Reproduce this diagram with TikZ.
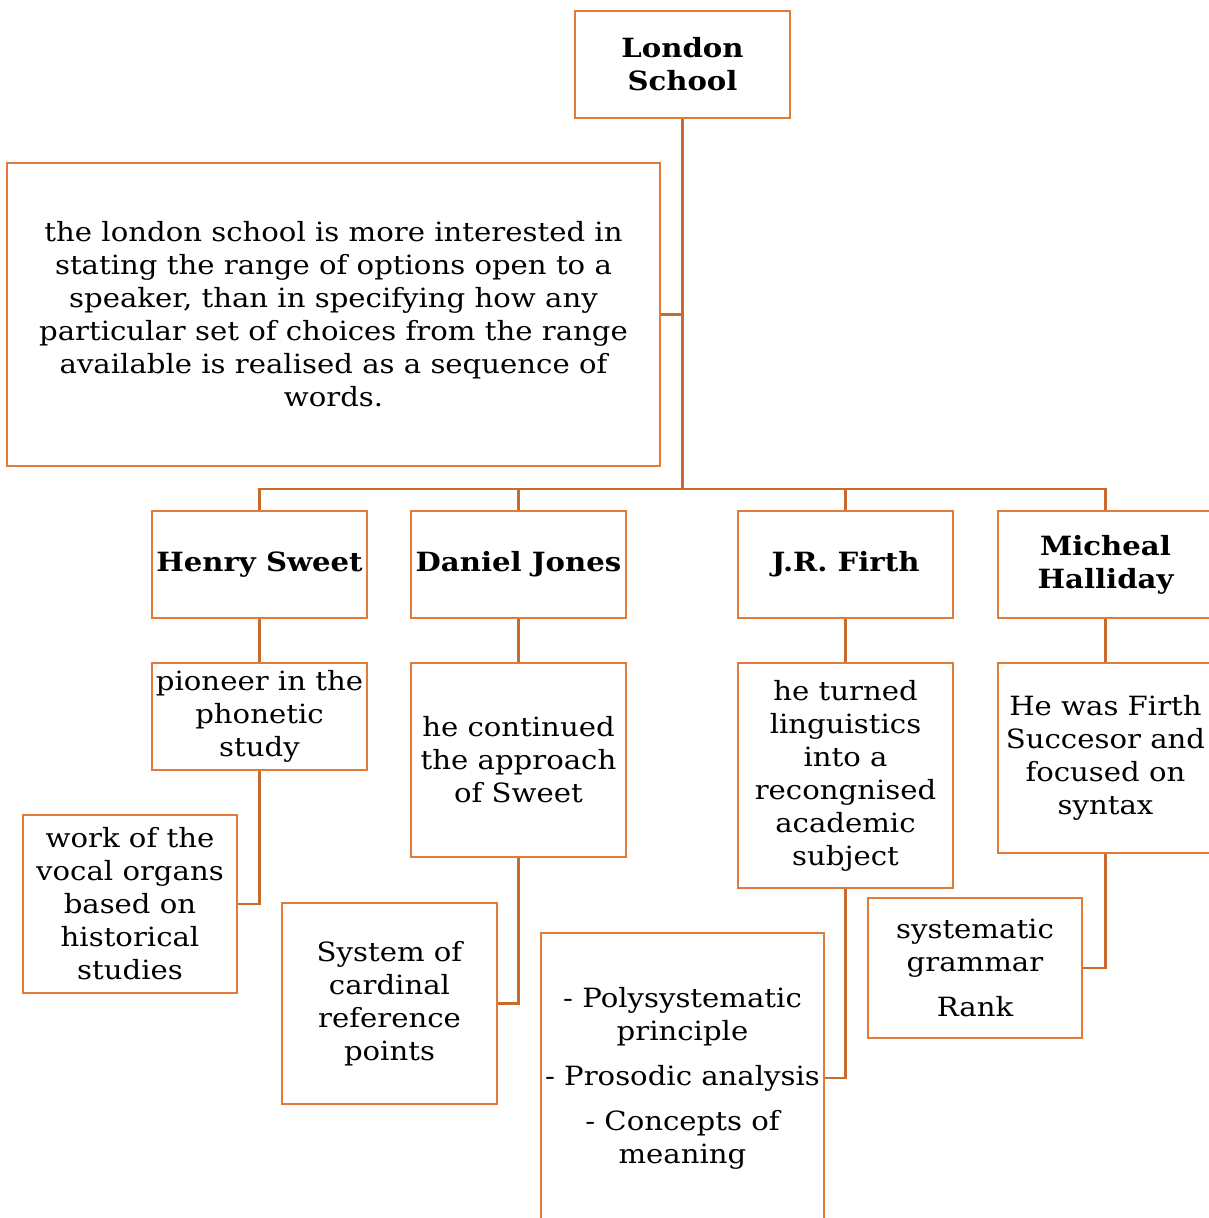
\documentclass[tikz,border=0pt]{standalone}
\usepackage{fontspec}
\setmainfont[FakeStretch=1.1]{DejaVu Serif}
\definecolor{boxc}{HTML}{E07B39}
\definecolor{linec}{HTML}{C86B2F}
\tikzset{
  mybox/.style={draw=boxc, line width=2.5pt, fill=white, inner sep=0pt, align=center,
     font=\fontsize{26.5}{33}\selectfont},
  namebox/.style={mybox, font=\fontsize{26.5}{33}\selectfont\bfseries},
  conn/.style={draw=linec, line width=2.5pt}}
\begin{document}
\begin{tikzpicture}[x=1pt,y=1pt]
\useasboundingbox (0,0) rectangle (1209,-1218);
\clip (0,0) rectangle (1209,-1218);
\fill[white] (0,0) rectangle (1209,-1218);
\coordinate (bus) at (682.5,-489);
\node[namebox, minimum width=215, minimum height=107] (ls) at (682.5,-64.5) {London\\School};
\node[mybox, minimum width=653, minimum height=303] (desc) at (333.5,-314.5)
  {the london school is more interested in\\stating the range of options open to a\\speaker, than in specifying how any\\particular set of choices from the range\\available is realised as a sequence of\\words.};
\node[namebox, minimum width=215, minimum height=107] (hs) at (259.5,-564.5) {Henry Sweet};
\node[namebox, minimum width=215, minimum height=107] (dj) at (518.5,-564.5) {Daniel Jones};
\node[namebox, minimum width=215, minimum height=107] (jf) at (845.5,-564.5) {J.R. Firth};
\node[namebox, minimum width=215, minimum height=107] (mh) at (1105.5,-564.5) {Micheal\\Halliday};
\node[mybox, minimum width=215, minimum height=107] (hs1) at (259.5,-716.5) {pioneer in the\\phonetic\\study};
\node[mybox, minimum width=214, minimum height=178] (hs2) at (130,-904) {work of the\\vocal organs\\based on\\historical\\studies};
\node[mybox, minimum width=215, minimum height=194] (dj1) at (518.5,-760) {he continued\\the approach\\of Sweet};
\node[mybox, minimum width=215, minimum height=201] (dj2) at (389.5,-1003.5) {System of\\cardinal\\reference\\points};
\node[mybox, minimum width=215, minimum height=225] (jf1) at (845.5,-775.5) {he turned\\linguistics\\into a\\recongnised\\academic\\subject};
\node[mybox, minimum width=283, minimum height=290] (jf2) at (682.5,-1078) {- Polysystematic\\principle\\[12pt]- Prosodic analysis\\[12pt]- Concepts of\\meaning};
\node[mybox, minimum width=215, minimum height=190] (mh1) at (1105.5,-758) {He was Firth\\Succesor and\\focused on\\syntax};
\node[mybox, minimum width=214, minimum height=140] (mh2) at (975,-968) {systematic\\grammar\\[12pt]Rank};
\draw[conn] (ls.south) -- (bus) -| (hs.north);
\draw[conn] (bus) -| (dj.north);
\draw[conn] (bus) -| (jf.north);
\draw[conn] (bus) -| (mh.north);
\draw[conn] (desc.east) -- (desc.east -| ls.south);
\draw[conn] (hs.south) -- (hs1.north);
\draw[conn] (hs1.south) |- (hs2.east);
\draw[conn] (dj.south) -- (dj1.north);
\draw[conn] (dj1.south) |- (dj2.east);
\draw[conn] (jf.south) -- (jf1.north);
\draw[conn] (jf1.south) |- (jf2.east);
\draw[conn] (mh.south) -- (mh1.north);
\draw[conn] (mh1.south) |- (mh2.east);
\end{tikzpicture}
\end{document}
